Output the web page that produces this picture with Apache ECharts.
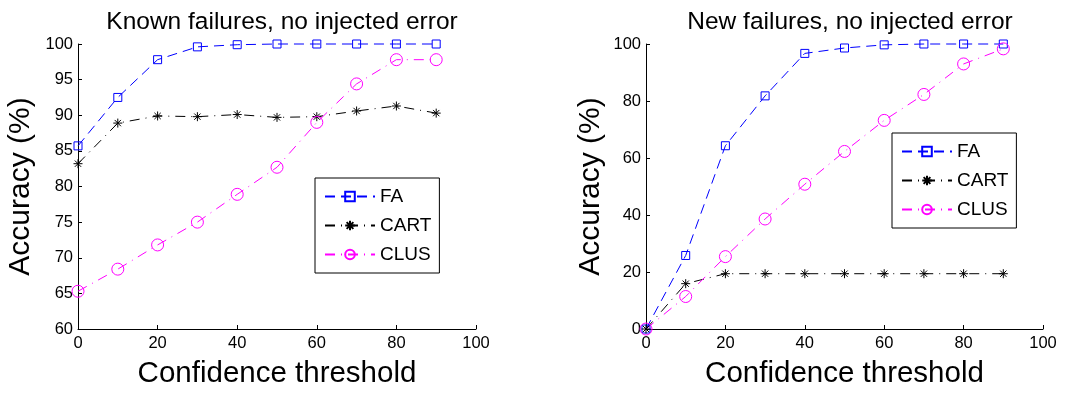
<!DOCTYPE html>
<html>
<head>
<meta charset="utf-8">
<script src="https://cdn.jsdelivr.net/npm/echarts@6/dist/echarts.min.js"></script>
<style>
  html, body { margin: 0; padding: 0; background: #fff; }
  #chart { width: 1082px; height: 394px; }
</style>
</head>
<body>
<div id="chart"></div>
<script>
// Confidence thresholds shared by both panels
var thresholds = [0, 10, 20, 30, 40, 50, 60, 70, 80, 90];

// Left panel: known failures
var knownFA   = [85.7, 92.5, 97.8, 99.6, 99.9, 100, 100, 100, 100, 100];
var knownCART = [83.2, 88.9, 89.9, 89.8, 90.1, 89.7, 89.8, 90.6, 91.3, 90.3];
var knownCLUS = [65.3, 68.4, 71.8, 75.0, 78.9, 82.7, 89.0, 94.4, 97.8, 97.8];

// Right panel: new failures
var newFA   = [0, 25.8, 64.3, 81.8, 96.7, 98.6, 99.7, 100, 100, 100];
var newCART = [0, 15.9, 19.4, 19.4, 19.4, 19.4, 19.4, 19.4, 19.4, 19.4];
var newCLUS = [0, 11.4, 25.4, 38.6, 50.8, 62.3, 73.2, 82.3, 93.0, 98.3];

var titles = ['Known failures, no injected error', 'New failures, no injected error'];
var FONT = '"Liberation Sans", Arial, Helvetica, sans-serif';

// asterisk marker drawn as stroked path
var STAR = 'path://M5,0L5,10M0,5L10,5M1.5,1.5L8.5,8.5M1.5,8.5L8.5,1.5';

var styles = {
  FA:   { symbol: 'rect', size: 8, color: '#0000ff', dash: [10, 6] },
  CART: { symbol: STAR, size: 9, color: '#000000', dash: [10, 6, 1, 6] },
  CLUS: { symbol: 'circle', size: 12, color: '#ff00ff', dash: [10, 6, 1, 6] }
};

function pairs(ys) {
  return ys.map(function (y, i) { return [thresholds[i], y]; });
}

function makeSeries(name, ys, idx) {
  var s = styles[name];
  return {
    name: name,
    type: 'line',
    xAxisIndex: idx,
    yAxisIndex: idx,
    data: pairs(ys),
    symbol: s.symbol,
    symbolSize: s.size,
    clip: false,
    lineStyle: { color: s.color, width: 1, type: s.dash },
    itemStyle: { color: 'transparent', borderColor: s.color, borderWidth: 1 }
  };
}

var _tick = { color: '#000', fontSize: 16.5, fontFamily: FONT };
var _line = { lineStyle: { color: '#000', width: 1 } };

function xAx(idx) {
  return {
    type: 'value', gridIndex: idx, min: 0, max: 100, interval: 20,
    name: 'Confidence threshold', nameLocation: 'middle', nameGap: 30,
    nameTextStyle: { color: '#000', fontSize: 29.5, fontFamily: FONT },
    axisLine: _line, axisTick: { inside: true, length: 4, lineStyle: { color: '#000' } },
    axisLabel: Object.assign({ margin: 6 }, _tick),
    splitLine: { show: false }
  };
}

function yAx(idx, min, interval, gap) {
  return {
    type: 'value', gridIndex: idx, min: min, max: 100, interval: interval,
    name: 'Accuracy (%)', nameLocation: 'middle', nameGap: gap,
    nameTextStyle: { color: '#000', fontSize: 30, fontFamily: FONT },
    axisLine: Object.assign({ show: true }, _line),
    axisTick: { show: true, inside: true, length: 4, lineStyle: { color: '#000' } },
    axisLabel: Object.assign({ margin: 5 }, _tick),
    splitLine: { show: false }
  };
}

function legend(left, top) {
  return {
    orient: 'vertical', left: left, top: top,
    data: ['FA', 'CART', 'CLUS'],
    itemWidth: 50, itemHeight: 12, itemGap: 10,
    padding: [9, 8, 9, 9],
    borderColor: '#000', borderWidth: 1, backgroundColor: '#fff',
    textStyle: { color: '#000', fontSize: 19, fontFamily: FONT },
    selectedMode: false
  };
}

var chart = echarts.init(document.getElementById('chart'), null, { renderer: 'canvas' });

chart.setOption({
  backgroundColor: '#fff',
  animation: false,
  title: [
    { text: titles[0], left: 277, top: 5, textAlign: 'center',
      textStyle: { color: '#000', fontSize: 24.5, fontWeight: 'normal', fontFamily: FONT } },
    { text: titles[1], left: 845, top: 5, textAlign: 'center',
      textStyle: { color: '#000', fontSize: 24.5, fontWeight: 'normal', fontFamily: FONT } }
  ],
  grid: [
    { left: 78, top: 44, width: 398, height: 297 },
    { left: 646, top: 44, width: 397, height: 296 }
  ],
  legend: [legend(315, 178), legend(892, 133)],
  xAxis: [xAx(0), xAx(1)],
  yAxis: [yAx(0, 60, 5, 42), yAx(1, 0, 20, 40)],
  series: [
    makeSeries('FA', knownFA, 0),
    makeSeries('CART', knownCART, 0),
    makeSeries('CLUS', knownCLUS, 0),
    makeSeries('FA', newFA, 1),
    makeSeries('CART', newCART, 1),
    makeSeries('CLUS', newCLUS, 1)
  ]
});
</script>
</body>
</html>
